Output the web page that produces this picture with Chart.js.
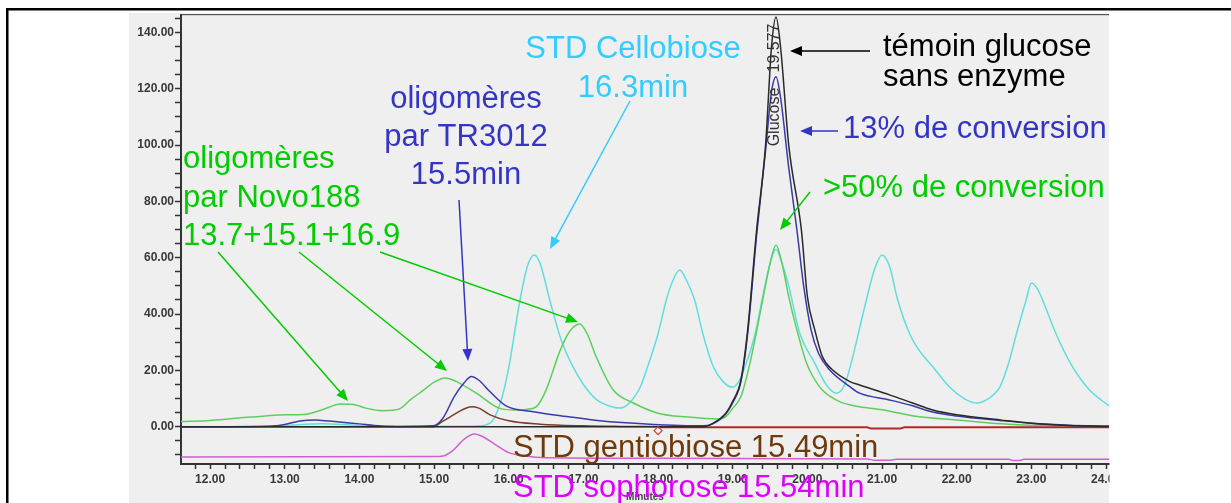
<!DOCTYPE html>
<html>
<head>
<meta charset="utf-8">
<script src="https://cdn.jsdelivr.net/npm/chart.js@4.4.1/dist/chart.umd.min.js"></script>
<style>
  html, body { margin: 0; padding: 0; background: #fff; }
  canvas { display: block; }
</style>
</head>
<body>
<canvas id="chromato" width="1231" height="503"></canvas>
<script>
// [retention time (min), response] for each injection
const cellobiose = [[11.61,0],[12.5,0],[12.9,0.3],[13.1,0.6],[13.5,1.0],[13.9,0.6],[14.3,0.2],[15.0,0.1],[15.55,0.2],
  [15.75,1.3],[15.9,9.5],[16.0,21],[16.15,44.9],[16.25,57],[16.34,61],[16.42,58],[16.55,44.9],[16.7,31],[16.86,21.3],
  [17.0,15],[17.18,9.5],[17.3,7.8],[17.49,6.6],[17.6,8],[17.76,14],[17.86,21.3],[18.0,33],[18.11,45],[18.2,52],
  [18.29,55.6],[18.38,52],[18.49,45],[18.6,33],[18.74,21.3],[18.87,16],[19.0,14],[19.1,17],[19.2,24],[19.3,33],
  [19.4,46],[19.5,58],[19.58,63],[19.66,58],[19.75,50],[19.9,33],[20.1,22.5],[20.25,15],[20.39,11.9],[20.5,15],
  [20.6,24],[20.7,35],[20.79,45],[20.9,56],[21.0,61],[21.1,57],[21.21,45],[21.37,33],[21.5,27],[21.68,21.3],
  [21.9,14.2],[22.1,10],[22.27,8.4],[22.4,9.5],[22.5,11.5],[22.58,14.2],[22.7,23],[22.8,33],[22.93,45],[23.0,51],
  [23.08,49],[23.15,45],[23.33,33],[23.55,21.3],[23.78,13],[24.04,7.4]];

const temoinGlucose = [[11.61,0],[18.6,0],[18.74,1.3],[18.91,4.9],[19.0,9],[19.11,16.6],[19.2,34.3],[19.32,69.8],
  [19.44,100],[19.52,135],[19.58,145.5],[19.64,135],[19.75,100],[19.92,69.8],[20.0,46.2],[20.1,34.3],[20.2,24.9],
  [20.34,20.1],[20.57,16],[20.7,14.8],[21.1,11.3],[21.4,8.5],[21.68,5.9],[22.0,4.2],[22.58,2.4],[23.0,1.2],
  [23.5,0.4],[24.04,0.1]];

const tr3012 = [[11.61,0],[12.8,0.2],[13.0,0.8],[13.2,2.0],[13.4,2.4],[13.6,2.0],[13.8,1.5],[14.0,1.0],[14.2,0.4],
  [14.5,0.1],[14.99,0.3],[15.12,3.1],[15.27,10.7],[15.4,15.5],[15.5,17.8],[15.6,16.5],[15.75,12.4],[15.97,7.3],
  [16.33,5.3],[16.78,3.6],[17.22,2.1],[17.89,0.9],[18.6,0.3],[18.74,1.1],[18.91,4.6],[19.0,8.5],[19.11,16],
  [19.2,33],[19.32,68],[19.44,98],[19.52,119],[19.58,124.3],[19.64,117],[19.75,92],[19.86,69.8],[19.95,50],
  [20.05,34.3],[20.15,26],[20.3,20.1],[20.57,14.2],[20.7,11.9],[21.1,9.5],[21.4,7.5],[21.68,5.2],[22.0,3.8],
  [22.58,2.2],[23.0,1.2],[23.5,0.5],[24.04,0.2]];

const novo188 = [[11.61,1.8],[12.0,2.2],[12.54,3.4],[13.0,4.2],[13.25,4.3],[13.5,6],[13.75,8.1],[13.9,8],[14.1,6.5],
  [14.3,5.7],[14.45,5.8],[14.55,6.5],[14.68,9.5],[14.86,13],[15.0,15.8],[15.15,17.3],[15.3,16],[15.57,11.8],
  [15.88,6.5],[16.1,5.9],[16.25,6.2],[16.37,7.1],[16.5,13],[16.69,27.2],[16.82,34],[16.95,36.5],[17.05,33],
  [17.17,24.9],[17.4,13],[17.67,8.4],[18.0,4.8],[18.4,3.4],[18.8,2.7],[18.91,3.6],[19.0,6.5],[19.11,10.7],
  [19.23,22.5],[19.41,46.2],[19.5,58],[19.58,64.5],[19.66,58],[19.75,46.2],[19.86,34.3],[19.99,22.5],[20.07,18],
  [20.2,13],[20.43,8.9],[20.7,7.1],[21.0,6],[21.5,3.5],[22.0,2.4],[22.6,1.0],[23.0,0.5],[24.04,0.3]];

const gentiobiose = [[11.61,0],[15.0,0],[15.08,1.3],[15.26,4.2],[15.4,6.3],[15.5,7.1],[15.6,6.6],[15.75,4.2],
  [16.0,2.1],[16.42,0.9],[17.0,0.3],[17.5,0.1],[18.0,0]];

const integBaseline = [[18.0,-0.2],[20.8,-0.2],[20.85,-0.6],[21.25,-0.6],[21.3,-0.2],[24.04,-0.2]];

const sophorose = [[11.61,-10.8],[15.0,-10.6],[15.12,-10.4],[15.25,-8.5],[15.4,-4.5],[15.54,-2.6],[15.65,-3.5],
  [15.8,-6],[16.0,-9.2],[16.2,-10.3],[16.5,-11.0],[18.0,-11.2],[20.0,-11.4],[20.8,-11.5],[20.9,-11.9],[21.1,-11.9],
  [21.2,-11.6],[22.7,-11.6],[22.75,-12.0],[22.85,-12.0],[22.9,-11.6],[24.04,-11.6]];

const integMarker = [[18.0,-1.4]];

const xMajor = [12, 13, 14, 15, 16, 17, 18, 19, 20, 21, 22, 23, 24];
const yMajor = [0, 20, 40, 60, 80, 100, 120, 140];

const FONT = '"Liberation Sans", Arial, sans-serif';

function pts(arr) {
  return arr.map(p => ({ x: p[0], y: p[1] }));
}

function trace(data, color, width) {
  return {
    data: pts(data),
    borderColor: color,
    borderWidth: width || 1.5,
    pointRadius: 0,
    cubicInterpolationMode: 'monotone',
    fill: false
  };
}

// callouts drawn over the plot
const notes = [
  { lines: ['STD Cellobiose', '16.3min'], x: 633, y: 58, lh: 39, align: 'center', color: '#33ccff' },
  { lines: ['oligomères', 'par TR3012', '15.5min'], x: 466, y: 108, lh: 38, align: 'center', color: '#3535c5' },
  { lines: ['oligomères', 'par Novo188', '13.7+15.1+16.9'], x: 183, y: 168, lh: 38.5, align: 'left', color: '#00cc00' },
  { lines: ['témoin glucose', 'sans enzyme'], x: 883, y: 56, lh: 30, align: 'left', color: '#000000' },
  { lines: ['13% de conversion'], x: 843, y: 138, lh: 0, align: 'left', color: '#3535c5' },
  { lines: ['>50% de conversion'], x: 823, y: 197, lh: 0, align: 'left', color: '#00cc00' },
  { lines: ['STD gentiobiose 15.49min'], x: 513, y: 457, lh: 0, align: 'left', color: '#6e3a0c' },
  { lines: ['STD sophorose 15.54min'], x: 513, y: 497, lh: 0, align: 'left', color: '#dd00ff' }
];

const arrows = [
  { from: [630, 101], to: [550, 249], color: '#33ccff' },
  { from: [459, 200], to: [468, 361], color: '#3535c5' },
  { from: [218, 252], to: [348, 401], color: '#00cc00' },
  { from: [299, 252], to: [447, 371], color: '#00cc00' },
  { from: [380, 252], to: [578, 322], color: '#00cc00' },
  { from: [870, 51], to: [790, 51], color: '#000000' },
  { from: [838, 131], to: [800, 131], color: '#3535c5' },
  { from: [810, 192], to: [780, 230], color: '#00cc00' }
];

function drawArrow(ctx, a) {
  const [x1, y1] = a.from, [x2, y2] = a.to;
  const ang = Math.atan2(y2 - y1, x2 - x1);
  const len = 12, half = 5;
  ctx.strokeStyle = a.color;
  ctx.fillStyle = a.color;
  ctx.lineWidth = 1.5;
  ctx.beginPath();
  ctx.moveTo(x1, y1);
  ctx.lineTo(x2 - Math.cos(ang) * (len - 2), y2 - Math.sin(ang) * (len - 2));
  ctx.stroke();
  ctx.beginPath();
  ctx.moveTo(x2, y2);
  ctx.lineTo(x2 - Math.cos(ang) * len - Math.sin(ang) * half, y2 - Math.sin(ang) * len + Math.cos(ang) * half);
  ctx.lineTo(x2 - Math.cos(ang) * len + Math.sin(ang) * half, y2 - Math.sin(ang) * len - Math.cos(ang) * half);
  ctx.closePath();
  ctx.fill();
}

const frame = {
  id: 'frame',
  beforeDraw(chart) {
    const ctx = chart.ctx;
    const { top, left, right } = chart.chartArea;
    ctx.save();
    ctx.fillStyle = '#ffffff';
    ctx.fillRect(0, 0, chart.width, chart.height);
    // grey panel behind the chromatogram
    ctx.fillStyle = '#efefef';
    ctx.fillRect(129, 13, 980, chart.height - 13);
    // outer black border
    ctx.fillStyle = '#000000';
    ctx.fillRect(6, 8, chart.width, 2.5);
    ctx.fillRect(6, 8, 2.5, chart.height);
    ctx.fillStyle = '#555555';
    ctx.fillRect(left - 1, top - 1, right - left + 1, 1.2);
    ctx.restore();
  },
  afterDraw(chart) {
    const ctx = chart.ctx;
    ctx.save();
    // peak label on the glucose peak
    ctx.fillStyle = '#333333';
    ctx.font = '16px ' + FONT;
    ctx.textAlign = 'center';
    ctx.textBaseline = 'middle';
    ctx.translate(775, 0);
    ctx.rotate(-Math.PI / 2);
    ctx.fillText('Glucose', -117, 0);
    ctx.fillText('19.577', -48, 0);
    ctx.restore();

    ctx.save();
    arrows.forEach(a => drawArrow(ctx, a));
    ctx.font = '31px ' + FONT;
    ctx.textBaseline = 'alphabetic';
    notes.forEach(n => {
      ctx.fillStyle = n.color;
      ctx.textAlign = n.align;
      n.lines.forEach((t, i) => ctx.fillText(t, n.x, n.y + i * n.lh));
    });
    // panel is cut off on the right
    ctx.fillStyle = '#ffffff';
    ctx.fillRect(1109.5, 12, chart.width, chart.height);
    ctx.restore();
  }
};

const tickFont = { family: FONT, size: 12, weight: 'bold' };

new Chart(document.getElementById('chromato'), {
  type: 'line',
  data: {
    datasets: [
      {
        data: pts(integMarker),
        showLine: false,
        pointStyle: 'rectRot',
        pointRadius: 4,
        pointBorderColor: '#c84040',
        pointBackgroundColor: 'rgba(0,0,0,0)',
        pointBorderWidth: 1.2
      },
      trace(temoinGlucose, '#2a2a2a'),
      trace(tr3012, '#3a3aa8'),
      trace(integBaseline, '#b02828', 2),
      trace(gentiobiose, '#7b3b2b'),
      trace(sophorose, '#d060d0'),
      trace(novo188, '#5ccf5c'),
      trace(cellobiose, '#5fdede')
    ]
  },
  options: {
    responsive: false,
    devicePixelRatio: 1,
    animation: false,
    layout: { padding: { left: 129, right: 122, top: 15, bottom: 0 } },
    plugins: {
      legend: { display: false },
      tooltip: { enabled: false }
    },
    scales: {
      x: {
        type: 'linear',
        min: 11.61,
        max: 24.04,
        afterBuildTicks(scale) {
          const t = [];
          for (let i = 0; i <= 61; i++) t.push({ value: Math.round((11.8 + i * 0.2) * 10) / 10 });
          scale.ticks = t;
        },
        afterFit(scale) { scale.height = 39; },
        ticks: {
          autoSkip: false,
          maxRotation: 0,
          padding: 3,
          color: '#383838',
          font: tickFont,
          callback: v => xMajor.includes(v) ? v.toFixed(2) : ''
        },
        grid: { drawOnChartArea: false, tickLength: 5, tickColor: '#333', tickWidth: 1.5 },
        border: { color: '#333', width: 2 },
        title: {
          display: true,
          text: 'Minutes',
          color: '#444',
          font: { family: FONT, size: 10, weight: 'bold' },
          padding: { top: 0, bottom: 0 }
        }
      },
      y: {
        min: -13.25,
        max: 146.2,
        afterBuildTicks(scale) {
          const t = [];
          for (let v = -10; v <= 145; v += 5) t.push({ value: v });
          scale.ticks = t;
        },
        afterFit(scale) { scale.width = 52; },
        ticks: {
          autoSkip: false,
          padding: 1,
          color: '#383838',
          font: tickFont,
          callback: v => yMajor.includes(v) ? v.toFixed(2) : ''
        },
        grid: { drawOnChartArea: false, tickLength: 6, tickColor: '#333', tickWidth: 1.5 },
        border: { color: '#333', width: 2 }
      }
    }
  },
  plugins: [frame]
});
</script>
</body>
</html>
